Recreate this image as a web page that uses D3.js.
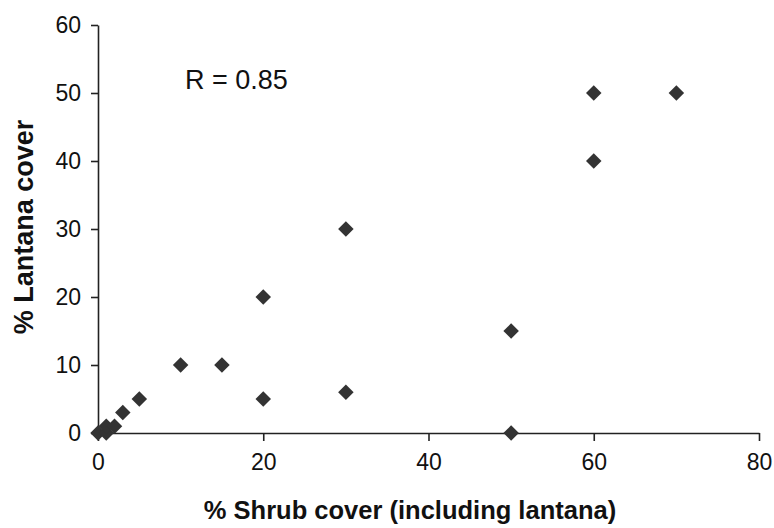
<!DOCTYPE html>
<html>
<head>
<meta charset="utf-8">
<script src="https://cdn.jsdelivr.net/npm/d3@7"></script>
<style>
  body { margin: 0; background: #fff; }
  svg { display: block; font-family: "Liberation Sans", Arial, Helvetica, sans-serif; }
</style>
</head>
<body>
<svg width="774" height="528"></svg>
<script>
// shrub cover vs lantana cover
var shrubCover   = [0, 1, 1, 2, 3, 5, 10, 15, 20, 20, 30, 30, 50, 50, 60, 60, 70];
var lantanaCover = [0, 0, 1, 1, 3, 5, 10, 10, 20, 5, 30, 6, 15, 0, 50, 40, 50];
var xTicks = [0, 20, 40, 60, 80];
var yTicks = [0, 10, 20, 30, 40, 50, 60];

var svg = d3.select("svg");
var width = +svg.attr("width");
var height = +svg.attr("height");
var margin = {top: 25, right: 15, bottom: 95, left: 98};

var x = d3.scaleLinear().domain([0, 80]).range([margin.left, width - margin.right]);
var y = d3.scaleLinear().domain([0, 60]).range([height - margin.bottom, margin.top]);

var points = shrubCover.map(function(d, i) { return {x: d, y: lantanaCover[i]}; });

var xAxis = svg.append("g")
    .attr("transform", "translate(0," + y(0) + ")")
    .call(d3.axisBottom(x).tickValues(xTicks).tickSize(8).tickSizeOuter(0).tickPadding(13));

var yAxis = svg.append("g")
    .attr("transform", "translate(" + x(0) + ",0)")
    .call(d3.axisLeft(y).tickValues(yTicks).tickSize(7).tickSizeOuter(0).tickPadding(10));

[xAxis, yAxis].forEach(function(ax) {
    ax.select(".domain").attr("stroke", "#222").attr("stroke-width", 1.6);
    ax.selectAll(".tick line").attr("stroke", "#222").attr("stroke-width", 1.6);
    ax.selectAll(".tick text")
      .attr("fill", "#111")
      .style("font-size", "23px")
      .style("font-family", "'Liberation Sans', Arial, sans-serif");
});

var diamond = d3.symbol().type(d3.symbolSquare).size(120);

svg.append("g")
   .attr("class", "points")
   .selectAll("path")
   .data(points)
   .enter()
   .append("path")
   .attr("d", diamond)
   .attr("transform", function(d) { return "translate(" + x(d.x) + "," + y(d.y) + ") rotate(45)"; })
   .attr("fill", "#333");

svg.append("text")
   .attr("x", 185)
   .attr("y", 89)
   .attr("fill", "#111")
   .style("font-size", "27px")
   .text("R = 0.85");

svg.append("text")
   .attr("x", 410)
   .attr("y", 519)
   .attr("text-anchor", "middle")
   .attr("fill", "#111")
   .style("font-size", "25.5px")
   .style("font-weight", "bold")
   .text("% Shrub cover (including lantana)");

svg.append("text")
   .attr("transform", "translate(33," + 227 + ") rotate(-90)")
   .attr("text-anchor", "middle")
   .attr("fill", "#111")
   .style("font-size", "27px")
   .style("font-weight", "bold")
   .text("% Lantana cover");
</script>
</body>
</html>
